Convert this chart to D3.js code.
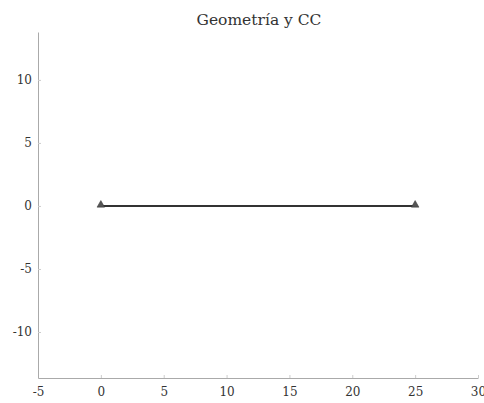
<!DOCTYPE html>
<html>
<head>
<meta charset="utf-8">
<script src="https://cdn.jsdelivr.net/npm/d3@7"></script>
<style>
  body { margin: 0; background: #fff; }
  text { font-family: "DejaVu Serif", "Liberation Serif", serif; }
</style>
</head>
<body>
<div id="chart-container"></div>
<script>
const title = "Geometría y CC";
const nodeX = [0, 25];
const nodeY = [0, 0];
const xTicks = [-5, 0, 5, 10, 15, 20, 25, 30];
const yTicks = [-10, -5, 0, 5, 10];
const xDomain = [-5, 30];
const yDomain = [-13.65, 13.8];

const width = 484;
const height = 403;
const margin = { top: 32, right: 6, bottom: 25, left: 38 };

const x = d3.scaleLinear()
    .domain(xDomain)
    .range([margin.left, width - margin.right]);

const y = d3.scaleLinear()
    .domain(yDomain)
    .range([height - margin.bottom, margin.top]);

const svg = d3.select("#chart-container").append("svg")
    .attr("width", width)
    .attr("height", height)
    .style("display", "block");

// title
svg.append("text")
    .attr("x", 259)
    .attr("y", 25)
    .attr("text-anchor", "middle")
    .attr("font-size", 15.5)
    .attr("fill", "#333")
    .text(title);

const fmt = d => String(d); // plain hyphen like the matlab figure

// x axis (ticks drawn inward like matlab)
svg.append("g")
    .attr("transform", `translate(0,${height - margin.bottom})`)
    .call(d3.axisBottom(x).tickValues(xTicks).tickFormat(fmt)
        .tickSizeInner(-3).tickSizeOuter(0).tickPadding(9))
    .call(g => g.select(".domain").attr("stroke", "#aaa"))
    .call(g => g.selectAll(".tick line").attr("stroke", "#ccc"))
    .call(g => g.selectAll(".tick text")
        .attr("font-family", "DejaVu Serif, serif")
        .attr("font-size", 12).attr("fill", "#333"));

svg.append("g")
    .attr("transform", `translate(${margin.left},0)`)
    .call(d3.axisLeft(y).tickValues(yTicks).tickFormat(fmt)
        .tickSizeInner(-3).tickSizeOuter(0).tickPadding(6))
    .call(g => g.select(".domain").attr("stroke", "#aaa"))
    .call(g => g.selectAll(".tick line").attr("stroke", "#ccc"))
    .call(g => g.selectAll(".tick text")
        .attr("font-family", "DejaVu Serif, serif")
        .attr("font-size", 12).attr("fill", "#333"));

const pts = nodeX.map((v, i) => ({ x: v, y: nodeY[i] }));

svg.append("path")
    .datum(pts)
    .attr("fill", "none")
    .attr("stroke", "#333")
    .attr("stroke-width", 2)
    .attr("d", d3.line().x(d => x(d.x)).y(d => y(d.y)));

const triangle = d3.symbol().type(d3.symbolTriangle).size(25);
svg.append("g")
    .selectAll("path")
    .data(pts)
    .join("path")
    .attr("d", triangle)
    .attr("transform", d => `translate(${x(d.x)},${y(d.y) - 1})`)
    .attr("fill", "#555")
    .attr("stroke", "#333")
    .attr("stroke-width", 0.5);
</script>
</body>
</html>
